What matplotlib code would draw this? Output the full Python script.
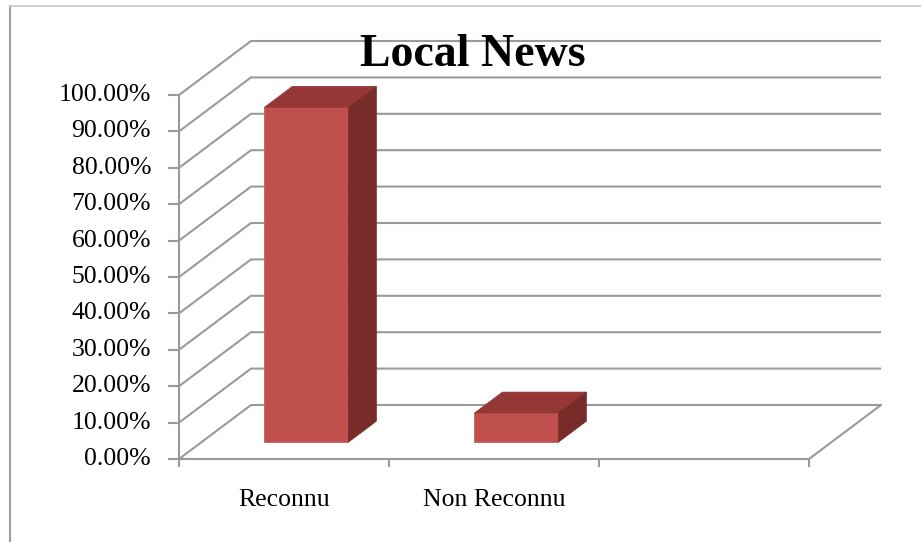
import numpy as np
import matplotlib
matplotlib.use("Agg")
import matplotlib.pyplot as plt
from matplotlib.patches import Polygon

categories = ["Reconnu", "Non Reconnu", ""]
values = [0.92, 0.08]
y_ticks = np.arange(0, 11) / 10.0
y_labels = ["%.2f%%" % (t * 100) for t in y_ticks]
title = "Local News"

FRONT = "#C0504D"
TOP = "#953735"
SIDE = "#772C2A"
GRID = "#9A9A9A"

# pixel geometry of the plot frame (front plane)
PX_X0, PX_UNIT_X = 179.0, 210.0
PX_Y0, PX_UNIT_Y = 459.0, 364.0
W, H = 921, 542

# oblique depth offset, in data units
DX = 72.0 / PX_UNIT_X
DY = 54.0 / PX_UNIT_Y
BAR_W = 84.0 / PX_UNIT_X
D_FRONT, D_BACK = 0.31, 0.70


def P(x, y, d=0.0):
    return (x + d * DX, y + d * DY)


fig = plt.figure(figsize=(W / 100, H / 100), dpi=100)
ax = fig.add_axes([0, 0, 1, 1])
ax.set_xlim(-PX_X0 / PX_UNIT_X, (W - PX_X0) / PX_UNIT_X)
ax.set_ylim((PX_Y0 - H) / PX_UNIT_Y, PX_Y0 / PX_UNIT_Y)
ax.axis("off")

n = len(categories)
lw = 1.5

# left wall depth lines and back wall gridlines
for t in y_ticks:
    x0, y0 = P(0, t)
    x1, y1 = P(0, t, 1)
    x2, y2 = P(n, t, 1)
    ax.plot([x0, x1, x2], [y0, y1, y2], color=GRID, lw=lw, solid_capstyle="butt", zorder=1)
    ax.plot([x0 - 10 / PX_UNIT_X, x0], [t, t], color=GRID, lw=lw, zorder=1)
    ax.text(x0 - 28 / PX_UNIT_X, t, y_labels[list(y_ticks).index(t)], ha="right", va="center",
            fontsize=18.5, family="Liberation Serif", color="black")

# y axis and floor front edge + right floor edge
ax.plot([0, 0], [0, 1], color=GRID, lw=lw, zorder=1)
fx, fy = P(n, 0, 1)
ax.plot([0, n, fx], [0, 0, fy], color=GRID, lw=lw, zorder=1)
for i in range(n + 1):
    ax.plot([i, i], [0, -7 / PX_UNIT_Y], color=GRID, lw=lw, zorder=1)

# category labels
for i, c in enumerate(categories):
    if c:
        ax.text(i + 0.5, -41 / PX_UNIT_Y, c, ha="center", va="center",
                fontsize=18.5, family="Liberation Serif", color="black")

# 3d columns
for i, v in enumerate(values):
    xc = i + 0.5
    l, r = xc - BAR_W / 2, xc + BAR_W / 2
    front = [P(l, 0, D_FRONT), P(r, 0, D_FRONT), P(r, v, D_FRONT), P(l, v, D_FRONT)]
    top = [P(l, v, D_FRONT), P(r, v, D_FRONT), P(r, v, D_BACK), P(l, v, D_BACK)]
    side = [P(r, 0, D_FRONT), P(r, 0, D_BACK), P(r, v, D_BACK), P(r, v, D_FRONT)]
    for pts, col in ((front, FRONT), (top, TOP), (side, SIDE)):
        ax.add_patch(Polygon(pts, closed=True, facecolor=col, edgecolor=col, lw=0.5, zorder=3))

# title
ax.text(473 / PX_UNIT_X - PX_X0 / PX_UNIT_X, (PX_Y0 - 55) / PX_UNIT_Y, title, ha="center",
        va="center", fontsize=33, fontweight="bold", family="Liberation Serif", color="black")

# chart area border (left and top)
fig.add_artist(plt.Line2D([10 / W, 10 / W], [0, 1 - 6 / H], color="#A0A0A0", lw=1.5,
                          transform=fig.transFigure))
fig.add_artist(plt.Line2D([10 / W, 1], [1 - 6 / H, 1 - 6 / H], color="#C8C8C8", lw=1.2,
                          transform=fig.transFigure))

fig.savefig("out.png", dpi=100)
